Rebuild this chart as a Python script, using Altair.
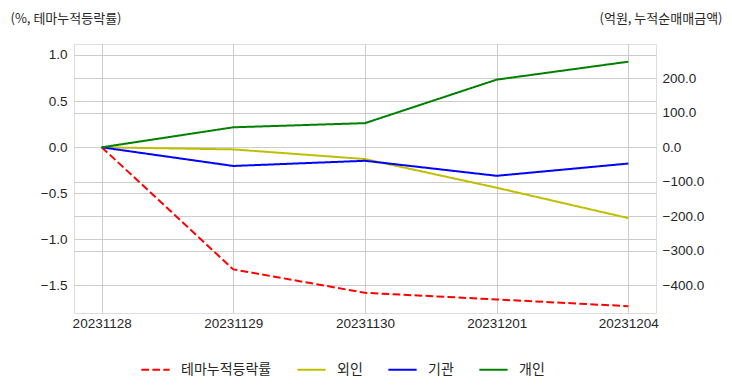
import altair as alt
import pandas as pd

dates = ["20231128", "20231129", "20231130", "20231201", "20231204"]
theme = [0.0, -1.326, -1.58, -1.652, -1.725]
foreign = [0.0, -6.0, -34.0, -117.0, -205.0]
institution = [0.0, -54.0, -39.0, -82.5, -47.0]
individual = [0.0, 58.0, 70.0, 196.0, 248.0]

series_names = ["테마누적등락률", "외인", "기관", "개인"]
series_colors = ["#ff0000", "#bfbf00", "#0000ff", "#008000"]
series_dash = [[7.7, 3.3], [1, 0], [1, 0], [1, 0]]

left_ticks = [-1.5, -1.0, -0.5, 0.0, 0.5, 1.0]
right_ticks = [-400, -300, -200, -100, 0, 100, 200]

df_left = pd.DataFrame({"date": dates, "value": theme, "series": series_names[0]})
df_right = pd.concat([
    pd.DataFrame({"date": dates, "value": foreign, "series": series_names[1]}),
    pd.DataFrame({"date": dates, "value": institution, "series": series_names[2]}),
    pd.DataFrame({"date": dates, "value": individual, "series": series_names[3]}),
])

TXT = "#262626"
GRID = "#cccccc"
KFONT = "Noto Sans CJK KR"
NFONT = "Liberation Sans"

x_enc = alt.X(
    "date:O",
    sort=dates,
    scale=alt.Scale(type="point", padding=0.21),
    axis=alt.Axis(title=None, labelAngle=0, labelFont=NFONT, labelFontSize=13.5,
                  labelColor=TXT, ticks=False, domain=False, grid=True,
                  gridColor=GRID, gridWidth=1, labelPadding=3),
)

legend_cfg = dict(title=None, orient="none", direction="horizontal",
                  legendX=66, legendY=310, symbolType="stroke",
                  symbolSize=800, symbolStrokeWidth=2, labelFont=KFONT,
                  labelFontSize=14, labelColor=TXT, labelOffset=10,
                  columnPadding=21, padding=0)

color_enc = alt.Color(
    "series:N",
    scale=alt.Scale(domain=series_names, range=series_colors),
    legend=alt.Legend(**legend_cfg),
)
dash_enc = alt.StrokeDash(
    "series:N",
    scale=alt.Scale(domain=series_names, range=series_dash),
    legend=alt.Legend(**legend_cfg),
)

left = alt.Chart(df_left).mark_line(strokeWidth=2).encode(
    x=x_enc,
    y=alt.Y("value:Q",
            scale=alt.Scale(domain=[-1.799, 1.119], nice=False, zero=False),
            axis=alt.Axis(orient="left", values=left_ticks, format=".1f",
                          title="(%, 테마누적등락률)", titleAngle=0,
                          titleFont=KFONT, titleFontSize=13, titleFontWeight="normal",
                          titleColor=TXT, titleAlign="left", titleBaseline="middle",
                          titleX=-64, titleY=-26, labelFont=NFONT, labelFontSize=13.5,
                          labelColor=TXT, ticks=False, domain=False, grid=True,
                          gridColor=GRID, gridWidth=1, labelPadding=7)),
    color=color_enc,
    strokeDash=dash_enc,
)

right = alt.Chart(df_right).mark_line(strokeWidth=2).encode(
    x=x_enc,
    y=alt.Y("value:Q",
            scale=alt.Scale(domain=[-479.8, 299.2], nice=False, zero=False),
            axis=alt.Axis(orient="right", values=right_ticks, format=".1f",
                          title="(억원, 누적순매매금액)", titleAngle=0,
                          titleFont=KFONT, titleFontSize=13, titleFontWeight="normal",
                          titleColor=TXT, titleAlign="right", titleBaseline="middle",
                          titleX=66, titleY=-26, labelFont=NFONT, labelFontSize=13.5,
                          labelColor=TXT, ticks=False, domain=False, grid=True,
                          gridColor=GRID, gridWidth=1, labelPadding=6)),
    color=color_enc,
    strokeDash=dash_enc,
)

chart = alt.layer(left, right).resolve_scale(y="independent").properties(
    width=582, height=269,
    autosize=alt.AutoSizeParams(type="none"),
    padding={"left": 66, "top": 36, "right": 66, "bottom": 68},
).configure_view(stroke=GRID, strokeWidth=1.25).configure(background="white")

chart.save("out.html", embed_options={"renderer": "svg", "actions": False})
